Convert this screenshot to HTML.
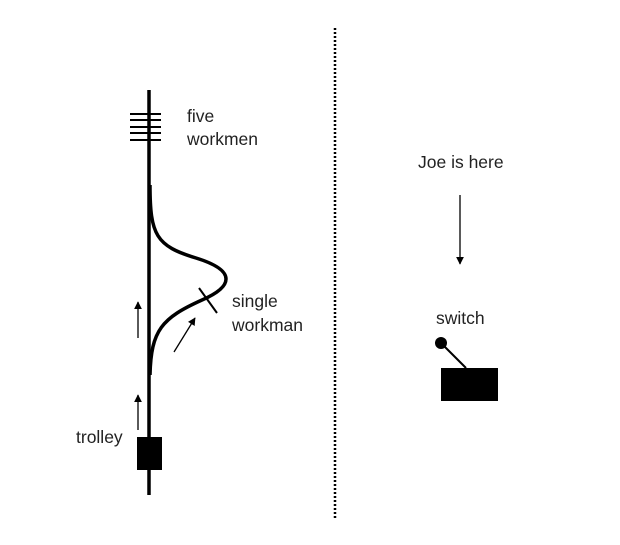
<!DOCTYPE html>
<html><head><meta charset="utf-8"><style>
html,body{margin:0;padding:0;background:#fff;}
svg{display:block;}
text{font-family:"Liberation Sans",Arial,sans-serif;font-size:17.5px;fill:#222;}
</style></head><body>
<svg width="620" height="545" viewBox="0 0 620 545">
<defs><marker id="ah" viewBox="0 0 10 10" refX="9" refY="5" markerWidth="6" markerHeight="6" orient="auto"><path d="M0,0L10,5L0,10z" fill="#000"/></marker></defs>
<g>
<line x1="149" y1="90" x2="149" y2="495" stroke="#000" stroke-width="3.5"/>
</g>
<g stroke="#000" stroke-width="2">
<line x1="130" y1="114" x2="161" y2="114"/><line x1="130" y1="120" x2="161" y2="120"/><line x1="130" y1="127" x2="161" y2="127"/><line x1="130" y1="133" x2="161" y2="133"/><line x1="130" y1="140" x2="161" y2="140"/>
</g>
<path d="M150,185 C150,235 156,246 196,258 C238,271 232,287 202,300 C162,318 151,330 150,375" fill="none" stroke="#000" stroke-width="3.5"/>
<line x1="199" y1="288" x2="217" y2="313" stroke="#000" stroke-width="2"/>
<line x1="138" y1="338" x2="138" y2="302" stroke="#000" stroke-width="1.3" marker-end="url(#ah)"/>
<line x1="138" y1="430" x2="138" y2="395" stroke="#000" stroke-width="1.3" marker-end="url(#ah)"/>
<line x1="174" y1="352" x2="195" y2="318" stroke="#000" stroke-width="1.3" marker-end="url(#ah)"/>
<rect x="137" y="437" width="25" height="33" fill="#000"/>
<text x="187" y="122">five</text>
<text x="187" y="145">workmen</text>
<text x="232" y="307">single</text>
<text x="232" y="331">workman</text>
<text x="76" y="443">trolley</text>
<line x1="335" y1="28" x2="335" y2="518" stroke="#000" stroke-width="2.5" stroke-dasharray="2,2"/>
<text x="418" y="168">Joe is here</text>
<line x1="460" y1="195" x2="460" y2="264" stroke="#000" stroke-width="1.3" marker-end="url(#ah)"/>
<text x="436" y="324">switch</text>
<g>
<line x1="441" y1="343" x2="466" y2="368" stroke="#000" stroke-width="2"/>
<circle cx="441" cy="343" r="6" fill="#000"/>
<rect x="441" y="368" width="57" height="33" fill="#000"/>
</g>
</svg>
</body></html>
